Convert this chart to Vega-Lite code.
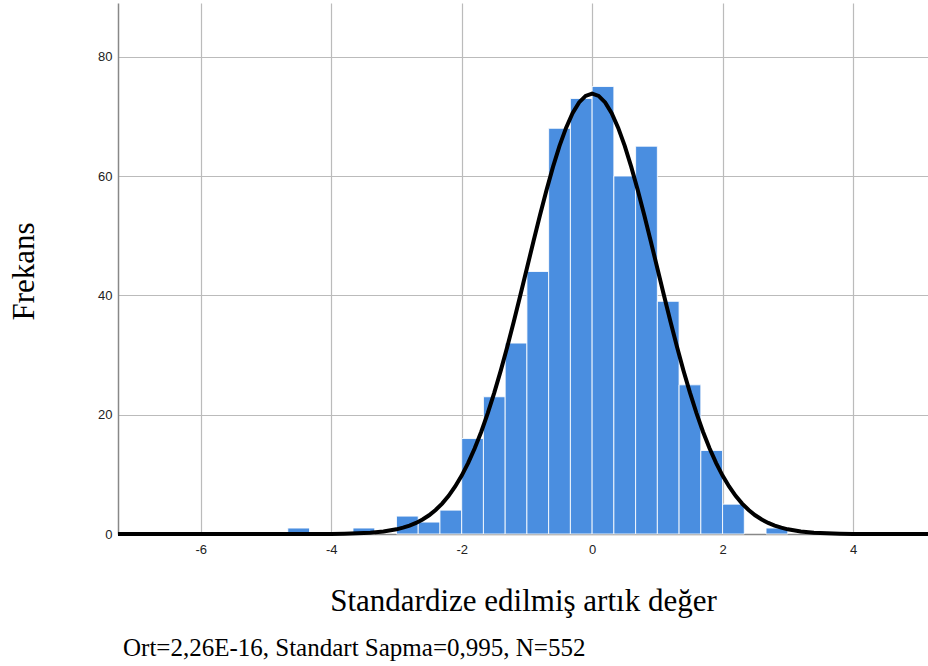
{
  "$schema": "https://vega.github.io/schema/vega-lite/v6.json",
  "width": 810,
  "height": 531,
  "autosize": {"type": "none"},
  "padding": {"left": 118, "top": 3, "right": 0, "bottom": 132},
  "background": "white",
  "config": {"view": {"stroke": null}},
  "title": {
    "text": "Ort=2,26E-16, Standart Sapma=0,995, N=552",
    "orient": "bottom",
    "anchor": "start",
    "frame": "group",
    "font": "Liberation Serif",
    "fontSize": 25,
    "fontWeight": "normal",
    "color": "#000000",
    "dx": 5,
    "offset": 20
  },
  "layer": [
    {
      "data": {
        "values": [
          {"bin_start": -4.6667, "bin_end": -4.3333, "count": 1},
          {"bin_start": -3.6667, "bin_end": -3.3333, "count": 1},
          {"bin_start": -3.0, "bin_end": -2.6667, "count": 3},
          {"bin_start": -2.6667, "bin_end": -2.3333, "count": 2},
          {"bin_start": -2.3333, "bin_end": -2.0, "count": 4},
          {"bin_start": -2.0, "bin_end": -1.6667, "count": 16},
          {"bin_start": -1.6667, "bin_end": -1.3333, "count": 23},
          {"bin_start": -1.3333, "bin_end": -1.0, "count": 32},
          {"bin_start": -1.0, "bin_end": -0.6667, "count": 44},
          {"bin_start": -0.6667, "bin_end": -0.3333, "count": 68},
          {"bin_start": -0.3333, "bin_end": 0.0, "count": 73},
          {"bin_start": 0.0, "bin_end": 0.3333, "count": 75},
          {"bin_start": 0.3333, "bin_end": 0.6667, "count": 60},
          {"bin_start": 0.6667, "bin_end": 1.0, "count": 65},
          {"bin_start": 1.0, "bin_end": 1.3333, "count": 39},
          {"bin_start": 1.3333, "bin_end": 1.6667, "count": 25},
          {"bin_start": 1.6667, "bin_end": 2.0, "count": 14},
          {"bin_start": 2.0, "bin_end": 2.3333, "count": 5},
          {"bin_start": 2.6667, "bin_end": 3.0, "count": 1}
        ]
      },
      "mark": {"type": "rect", "color": "#4a8ee0", "stroke": "#ffffff", "strokeWidth": 1, "strokeOpacity": 0.85},
      "encoding": {
        "x": {
          "field": "bin_start",
          "type": "quantitative",
          "scale": {"domain": [-7.27, 5.15], "nice": false, "zero": false},
          "axis": {
            "values": [-6, -4, -2, 0, 2, 4],
            "labelExpr": "'' + datum.value",
            "labelFont": "Liberation Sans",
            "labelFontSize": 13,
            "labelColor": "#222222",
            "labelPadding": 9,
            "ticks": false,
            "domainColor": "#888888",
            "domainWidth": 1.5,
            "gridColor": "#bbbbbb",
            "gridWidth": 1.2,
            "title": "Standardize edilmiş artık değer",
            "titleFont": "Liberation Serif",
            "titleFontSize": 31,
            "titleFontWeight": "normal",
            "titleColor": "#000000",
            "titleBaseline": "alphabetic",
            "titleY": 76
          }
        },
        "x2": {"field": "bin_end"},
        "y": {
          "field": "count",
          "type": "quantitative",
          "scale": {"domain": [0, 89], "nice": false},
          "axis": {
            "values": [0, 20, 40, 60, 80],
            "labelFont": "Liberation Sans",
            "labelFontSize": 13,
            "labelColor": "#222222",
            "labelPadding": 6,
            "ticks": false,
            "domainColor": "#888888",
            "domainWidth": 1.5,
            "gridColor": "#bbbbbb",
            "gridWidth": 1.2,
            "title": "Frekans",
            "titleFont": "Liberation Serif",
            "titleFontSize": 31,
            "titleFontWeight": "normal",
            "titleColor": "#000000",
            "titleAngle": -90,
            "titleBaseline": "alphabetic",
            "titleAlign": "center",
            "titleX": -85,
            "titleY": 268
          }
        },
        "y2": {"datum": 0}
      }
    },
    {
      "data": {
        "values": [
          {"x": -7.27, "y": 0},
          {"x": -4.0, "y": 0.02},
          {"x": -3.8, "y": 0.05},
          {"x": -3.6, "y": 0.11},
          {"x": -3.4, "y": 0.21},
          {"x": -3.2, "y": 0.42},
          {"x": -3.0, "y": 0.78},
          {"x": -2.9, "y": 1.06},
          {"x": -2.8, "y": 1.41},
          {"x": -2.7, "y": 1.86},
          {"x": -2.6, "y": 2.43},
          {"x": -2.5, "y": 3.14},
          {"x": -2.4, "y": 4.02},
          {"x": -2.3, "y": 5.10},
          {"x": -2.2, "y": 6.40},
          {"x": -2.1, "y": 7.96},
          {"x": -2.0, "y": 9.79},
          {"x": -1.9, "y": 11.92},
          {"x": -1.8, "y": 14.37},
          {"x": -1.7, "y": 17.14},
          {"x": -1.6, "y": 20.26},
          {"x": -1.5, "y": 23.69},
          {"x": -1.4, "y": 27.42},
          {"x": -1.3, "y": 31.43},
          {"x": -1.2, "y": 35.66},
          {"x": -1.1, "y": 40.05},
          {"x": -1.0, "y": 44.54},
          {"x": -0.9, "y": 49.02},
          {"x": -0.8, "y": 53.42},
          {"x": -0.7, "y": 57.62},
          {"x": -0.6, "y": 61.53},
          {"x": -0.5, "y": 65.05},
          {"x": -0.4, "y": 68.07},
          {"x": -0.3, "y": 70.52},
          {"x": -0.2, "y": 72.33},
          {"x": -0.1, "y": 73.43},
          {"x": 0.0, "y": 73.8},
          {"x": 0.1, "y": 73.43},
          {"x": 0.2, "y": 72.33},
          {"x": 0.3, "y": 70.52},
          {"x": 0.4, "y": 68.07},
          {"x": 0.5, "y": 65.05},
          {"x": 0.6, "y": 61.53},
          {"x": 0.7, "y": 57.62},
          {"x": 0.8, "y": 53.42},
          {"x": 0.9, "y": 49.02},
          {"x": 1.0, "y": 44.54},
          {"x": 1.1, "y": 40.05},
          {"x": 1.2, "y": 35.66},
          {"x": 1.3, "y": 31.43},
          {"x": 1.4, "y": 27.42},
          {"x": 1.5, "y": 23.69},
          {"x": 1.6, "y": 20.26},
          {"x": 1.7, "y": 17.14},
          {"x": 1.8, "y": 14.37},
          {"x": 1.9, "y": 11.92},
          {"x": 2.0, "y": 9.79},
          {"x": 2.1, "y": 7.96},
          {"x": 2.2, "y": 6.40},
          {"x": 2.3, "y": 5.10},
          {"x": 2.4, "y": 4.02},
          {"x": 2.5, "y": 3.14},
          {"x": 2.6, "y": 2.43},
          {"x": 2.7, "y": 1.86},
          {"x": 2.8, "y": 1.41},
          {"x": 2.9, "y": 1.06},
          {"x": 3.0, "y": 0.78},
          {"x": 3.2, "y": 0.42},
          {"x": 3.4, "y": 0.21},
          {"x": 3.6, "y": 0.11},
          {"x": 3.8, "y": 0.05},
          {"x": 4.0, "y": 0.02},
          {"x": 5.15, "y": 0}
        ]
      },
      "mark": {"type": "line", "color": "#000000", "strokeWidth": 4},
      "encoding": {
        "x": {"field": "x", "type": "quantitative"},
        "y": {"field": "y", "type": "quantitative"}
      }
    }
  ]
}
